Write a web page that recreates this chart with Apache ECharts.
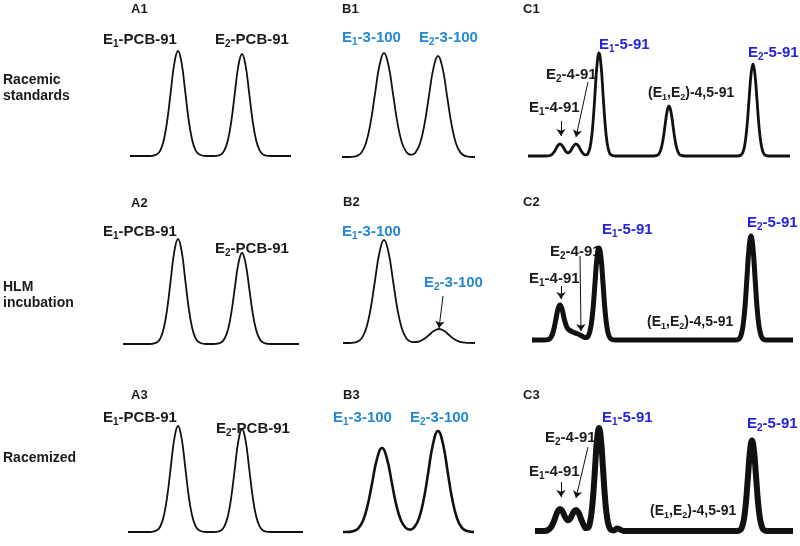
<!DOCTYPE html>
<html><head><meta charset="utf-8">
<script src="https://cdn.jsdelivr.net/npm/echarts@6/dist/echarts.min.js"></script>
<style>html,body{margin:0;padding:0;background:#fff}#c{width:800px;height:546px}</style>
</head><body><div id="c"></div>
<script>
// ---- chromatogram traces: [retention (arbitrary units), signal] ----
const traceA1 = [[0,0],[18,0],[22,0.2],[27,1.7],[30.5,5.9],[34,16.7],[37.5,37.3],[41,66.3],[44.5,93.6],[48,105],[51.5,93.6],[55,66.3],[58.5,37.3],[62,16.7],[65.5,5.9],[69,1.7],[74,0.2],[80,0],[86,0.2],[91,1.6],[94.5,5.8],[98,16.2],[101.5,36.2],[105,64.4],[108.5,90.9],[112,102],[115.5,90.9],[119,64.4],[122.5,36.2],[126,16.2],[129.5,5.8],[133,1.6],[138,0.2],[144,0],[161,0]];
const traceA2 = [[-7,0],[18,0],[22,0.2],[27,1.7],[30.5,5.9],[34,16.7],[37.5,37.3],[41,66.3],[44.5,93.6],[48,105],[51.5,93.6],[55,66.3],[58.5,37.3],[62,16.7],[65.5,5.9],[69,1.7],[74,0.2],[80,0],[86,0.2],[91,1.5],[94.5,5.2],[98,14.5],[101.5,32.3],[105,57.4],[108.5,81.1],[112,91],[115.5,81.1],[119,57.4],[122.5,32.3],[126,14.5],[129.5,5.2],[133,1.5],[138,0.2],[144,0],[169,0]];
const traceA3 = [[-2,0],[18,0],[22,0.2],[27,1.7],[30.5,6],[34,16.9],[37.5,37.6],[41,66.9],[44.5,94.4],[48,106],[51.5,94.4],[55,66.9],[58.5,37.6],[62,16.9],[65.5,6],[69,1.7],[74,0.2],[80,0],[86,0.2],[91,1.6],[94.5,5.8],[98,16.4],[101.5,36.6],[105,65],[108.5,91.8],[112,103],[115.5,91.8],[119,65],[122.5,36.6],[126,16.4],[129.5,5.8],[133,1.6],[138,0.2],[144,0],[173,0]];
const traceB1 = [[0,0],[8,0],[10,0.2],[15,1.1],[19.5,4.6],[24,14],[28.5,33.8],[33,63.1],[37.5,91.7],[42,104],[46.5,91.7],[51,63.1],[55.5,33.8],[60,14.1],[64.5,4.8],[66.75,2.9],[69,2.3],[71.25,2.8],[73.5,4.6],[78,13.6],[82.5,32.8],[87,61.3],[91.5,89.1],[96,101],[100.5,89.1],[105,61.3],[109.5,32.8],[114,13.6],[118.5,4.4],[123,1.1],[128,0.2],[133,0]];
const traceB2 = [[1,0],[8,0],[10,0.2],[15,1.1],[19.5,4.5],[24,13.9],[28.5,33.5],[33,62.5],[37.5,90.8],[42,103],[46.5,90.8],[51,62.5],[55.5,33.5],[60,14],[64.5,4.6],[68,1.7],[71,0.9],[74,1.0],[78,1.9],[83,4.7],[87,8.05],[92,12.2],[97,14],[102,12.2],[107,8.05],[111,4.7],[116,1.9],[121,0.57],[126,0.13],[133,0]];
const traceB3 = [[1,0],[4,0],[11,0.8],[16,3.4],[21,11.3],[26,28.4],[30,48.3],[35,73.2],[40,84],[45,73.2],[50,48.3],[54,28.4],[59,11.4],[64,3.8],[68,2.4],[72,4.4],[77,13.6],[82,34],[86,58],[91,88],[96,101],[101,88],[106,58],[110,34],[115,13.6],[120,4.1],[125,1],[132,0]];
const traceC1 = [[0,0],[16,0],[20,0.1],[22,0.5],[24,1.6],[26,3.9],[28,7.3],[30,10.6],[32,12],[34,10.6],[36,7.4],[38,4.4],[40,3.2],[42,4.4],[44,7.4],[46,10.6],[48,12],[50,10.6],[52,7.3],[54,3.9],[56,1.7],[58,1.05],[60,2.5],[62,8.2],[64,22.3],[66,47],[67,62.5],[69,91],[71,103],[73,91],[75,62.5],[77,33.4],[79,13.9],[81,4.5],[83,1.1],[87,0],[125,0],[129,0.55],[131,2.2],[133,6.8],[135,16.2],[137,30.3],[139,44],[141,50],[143,44],[145,30.3],[147,16.2],[149,6.8],[151,2.2],[153,0.55],[157,0],[209,0],[213,1],[215,4],[217,12.4],[219,29.9],[221,55.8],[223,81.2],[225,92],[227,81.2],[229,55.8],[231,29.9],[233,12.4],[235,4],[237,1],[241,0],[262,0]];
const traceC2 = [[4,0],[16,0],[20,0.4],[22,1.5],[24,4.7],[26,11.4],[28,21.3],[30,31],[32,35],[34,31],[36,22],[38,15],[40,11],[42,9.5],[46,7.5],[50,6],[54,4],[57,2.5],[59,2.5],[60,3.5],[62,9],[64,21],[66,43],[67,57],[69,82],[71,92],[73,82],[75,57],[77,30],[79,12.5],[81,4],[83,1],[87,0],[207,0],[211,1.1],[213,4.6],[215,14],[217,33.3],[219,63],[221,91.5],[223,104],[225,91.5],[227,63],[229,33.3],[231,14],[233,4.6],[235,1.1],[239,0],[265,0]];
const traceC3 = [[7,0],[14,0],[18,0.3],[20,1],[22,2.5],[24,5.5],[26,10],[28,15.5],[30,20.2],[32,22.1],[34,20.5],[36,16.4],[38,12.4],[40,10.7],[42,12.1],[44,15.8],[46,19.6],[48,21.1],[50,19.3],[52,14.8],[54,9.6],[56,5.3],[58,2.9],[60,3.2],[62,8.5],[64,22.3],[66,47],[67,62.5],[69,91],[71,103],[73,91],[75,62.5],[77,33.4],[79,13.9],[81,4.5],[83,1.1],[86,0.6],[89,2.5],[92,1.5],[96,0],[208,0],[212,1],[214,4],[216,12.2],[218,29.4],[220,55],[222,79.9],[224,90.5],[226,79.9],[228,55],[230,29.4],[232,12.2],[234,4],[236,1],[240,0],[265,0]];

// ---- text ----
const rowTitles = [['Racemic','standards'],['HLM','incubation'],['Racemized']];
const panelNames = [['A1','B1','C1'],['A2','B2','C2'],['A3','B3','C3']];
const namesA = ['E_1-PCB-91','E_2-PCB-91'];
const namesB = ['E_1-3-100','E_2-3-100'];
const namesC = ['E_1-5-91','E_2-5-91','E_1-4-91','E_2-4-91','(E_1,E_2)-4,5-91'];

// ---- arrows (from label to peak) in each panel's data units ----
const arrowsB2 = [[[101,47],[97,15]]];
const arrowsC1 = [[[33,35],[33,20]],[[60,74],[48,19]]];
const arrowsC2 = [[[33,54],[33,41]],[[52,84],[53,9]]];
const arrowsC3 = [[[33,49],[33,34]],[[60,84],[48,33]]];

// ---- layout ----
const cols = [{left:120,width:190,min:-10,max:180},{left:332,width:154,min:-10,max:144},{left:518,width:282,min:-10,max:272}];
const baselines = [[156,157,156],[344,343,340],[532,532,531]];
const lineWidths = [[1.8,1.8,2.8],[1.8,1.8,5],[1.8,2.6,6]];
const traces = [[traceA1,traceB1,traceC1],[traceA2,traceB2,traceC2],[traceA3,traceB3,traceC3]];
const arrows = [[null,null,arrowsC1],[null,arrowsB2,arrowsC2],[null,null,arrowsC3]];
const PLOT_H = 110;

const BLACK = '#1b1b1b', BLUE_B = '#2389d0', BLUE_C = '#2424dc';
const FONT = '"Liberation Sans", Arial, sans-serif';

const grids = [], xAxes = [], yAxes = [], series = [];
for (let r = 0; r < 3; r++) {
  for (let c = 0; c < 3; c++) {
    const i = grids.length;
    grids.push({left: cols[c].left, width: cols[c].width, top: baselines[r][c] - PLOT_H, height: PLOT_H});
    xAxes.push({type:'value', gridIndex:i, min:cols[c].min, max:cols[c].max, show:false});
    yAxes.push({type:'value', gridIndex:i, min:0, max:PLOT_H, show:false});
    const s = {
      type:'line', xAxisIndex:i, yAxisIndex:i, data: traces[r][c], smooth:0.45,
      symbol:'none', clip:false, silent:true,
      lineStyle:{color:'#111', width: lineWidths[r][c], join:'round'}
    };
    if (arrows[r][c]) {
      s.markLine = {
        silent:true, symbol:['none','arrow'], symbolSize:7, animation:false,
        lineStyle:{color:'#111', width:1, type:'solid'}, label:{show:false},
        data: arrows[r][c].map(a => [{coord:a[0]},{coord:a[1]}])
      };
    }
    series.push(s);
  }
}

// ---- label placement (pixels) ----
function rich(s){ return '{m|' + s.replace(/_(\d)/g, '}{s|$1}{m|') + '}'; }
function txt(s, x, y, color, size, subSize) {
  return {
    type:'text', x:x, y:y, silent:true,
    style:{
      text: rich(s), align:'left', verticalAlign:'middle',
      textAlign:'left', textVerticalAlign:'middle',
      rich:{
        m:{fill:color, fontSize:size, fontWeight:'bold', fontFamily:FONT, lineHeight:18, verticalAlign:'middle'},
        s:{fill:color, fontSize:subSize || Math.round(size*0.66), fontWeight:'bold', fontFamily:FONT, lineHeight:9, verticalAlign:'bottom'}
      }
    }
  };
}
const graphics = [];
const rowTitlePos = [[[3,80],[3,96]],[[3,287],[3,303]],[[3,458]]];
rowTitles.forEach((lines, r) => lines.forEach((t, k) => graphics.push(txt(t, rowTitlePos[r][k][0], rowTitlePos[r][k][1], BLACK, 14))));
const panelPos = [[[131,9],[342,9],[523,9]],[[131,203],[343,202],[523,202]],[[131,395],[343,395],[523,395]]];
panelNames.forEach((row, r) => row.forEach((t, c) => graphics.push(txt(t, panelPos[r][c][0], panelPos[r][c][1], BLACK, 13))));
const posA = [[[103,40],[215,40]],[[103,232],[215,249]],[[103,418],[216,429]]];
const posB = [[[342,38],[419,38]],[[342,232],[424,283]],[[333,418],[410,418]]];
const posC = [
  [[599,45],[748,53],[529,108],[546,75],[648,93]],
  [[602,230],[747,223],[529,279],[550,252],[647,322]],
  [[602,418],[747,424],[529,472],[545,438],[650,511]]
];
for (let r = 0; r < 3; r++) {
  namesA.forEach((t, k) => graphics.push(txt(t, posA[r][k][0], posA[r][k][1], BLACK, 15, 10)));
  namesB.forEach((t, k) => graphics.push(txt(t, posB[r][k][0], posB[r][k][1], BLUE_B, 15, 10)));
  namesC.forEach((t, k) => {
    const col = k < 2 ? BLUE_C : BLACK;
    const size = k === 4 ? 14 : 15;
    graphics.push(txt(t, posC[r][k][0], posC[r][k][1], col, size, size === 14 ? 9 : 10));
  });
}

const chart = echarts.init(document.getElementById('c'), null, {renderer:'canvas'});
chart.setOption({
  animation:false,
  backgroundColor:'#fff',
  grid: grids, xAxis: xAxes, yAxis: yAxes, series: series,
  graphic: graphics
});
</script>
</body></html>
